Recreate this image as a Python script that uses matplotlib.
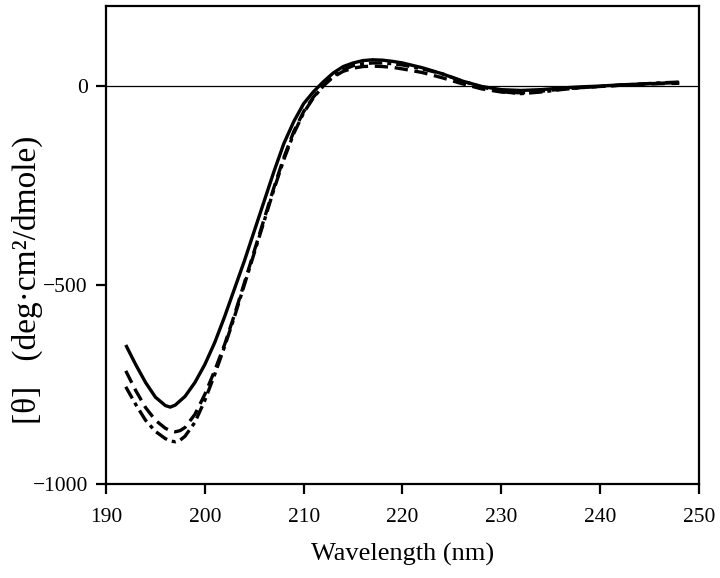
import matplotlib
matplotlib.use("Agg")
import matplotlib.pyplot as plt
from matplotlib.ticker import FixedLocator, FuncFormatter

# Wavelengths (nm)
wl_main = [192, 193, 194, 195, 196, 196.5, 197, 198, 199, 200, 201, 202, 203, 204, 205,
           206, 207, 208, 209, 210, 211, 212, 213, 214, 215, 216, 217, 218, 219, 220,
           222, 224, 226, 228, 230, 232, 234, 236, 238, 240, 242, 244, 246, 248]
solid = [-651, -700, -745, -782, -803, -807, -802, -780, -745, -700, -645, -580, -510, -440, -365,
         -290, -215, -145, -90, -45, -15, 10, 32, 48, 57, 63, 65, 64, 61, 57,
         45, 30, 12, -2, -10, -12, -10, -6, -3, -1, 2, 4, 6, 8]

wl_b = [192, 193, 194, 195, 196, 196.5, 197, 197.5, 198, 199, 200, 201, 202, 203, 204, 205,
        206, 207, 208, 209, 210, 211, 212, 213, 214, 215, 216, 217, 218, 219, 220,
        222, 224, 226, 228, 230, 232, 234, 236, 238, 240, 242, 244, 246, 248]
dashed = [-716, -765, -808, -840, -860, -866, -869, -866, -858, -825, -775, -715, -650, -575, -495, -415,
          -335, -255, -180, -115, -65, -28, 0, 22, 36, 44, 48, 49, 48, 46, 42,
          33, 20, 5, -8, -16, -18, -14, -9, -5, -2, 1, 3, 5, 6]
dashdot = [-756, -800, -840, -868, -886, -892, -894, -890, -880, -845, -790, -725, -655, -580, -500, -420,
           -340, -260, -185, -120, -68, -30, 0, 24, 40, 50, 55, 57, 57, 55, 52,
           42, 30, 12, -3, -15, -20, -16, -10, -5, -2, 1, 4, 7, 9]

xticks = [190, 200, 210, 220, 230, 240, 250]
yticks = [-1000, -500, 0]

plt.rcParams['font.family'] = ['Liberation Serif', 'DejaVu Serif']

fig = plt.figure(figsize=(7.2, 5.78), dpi=100)
ax = fig.add_axes([106/720, 1-484/578, (699-106)/720, (484-6)/578])

ax.axhline(0, color='black', lw=0.9, zorder=1)
ax.plot(wl_main, solid, color='black', lw=2.4, solid_capstyle='butt', solid_joinstyle='round')
ax.plot(wl_b, dashed, color='black', lw=2.4, dashes=(4, 2))
ax.plot(wl_b, dashdot, color='black', lw=2.4, dashes=(4, 1.5, 1.2, 1.5))

ax.set_xlim(190, 250)
ax.set_ylim(-1000, 200)
ax.xaxis.set_major_locator(FixedLocator(xticks))
ax.yaxis.set_major_locator(FixedLocator(yticks))
ax.yaxis.set_major_formatter(FuncFormatter(lambda v, p: f"{int(v)}".replace('-', '\u2212')))

for s in ax.spines.values():
    s.set_linewidth(1.6)
ax.tick_params(direction='out', length=7, width=1.6, labelsize=15.5, pad=6)
ax.tick_params(axis='x', pad=10)

ax.set_xlabel('Wavelength (nm)', fontsize=19, labelpad=12)
fig.text(27/720, 1-280/578, '[\u03b8]   (deg\u00b7cm\u00b2/dmole)', rotation=90,
         ha='center', va='center', fontsize=24)

fig.savefig('out.png', dpi=100)
